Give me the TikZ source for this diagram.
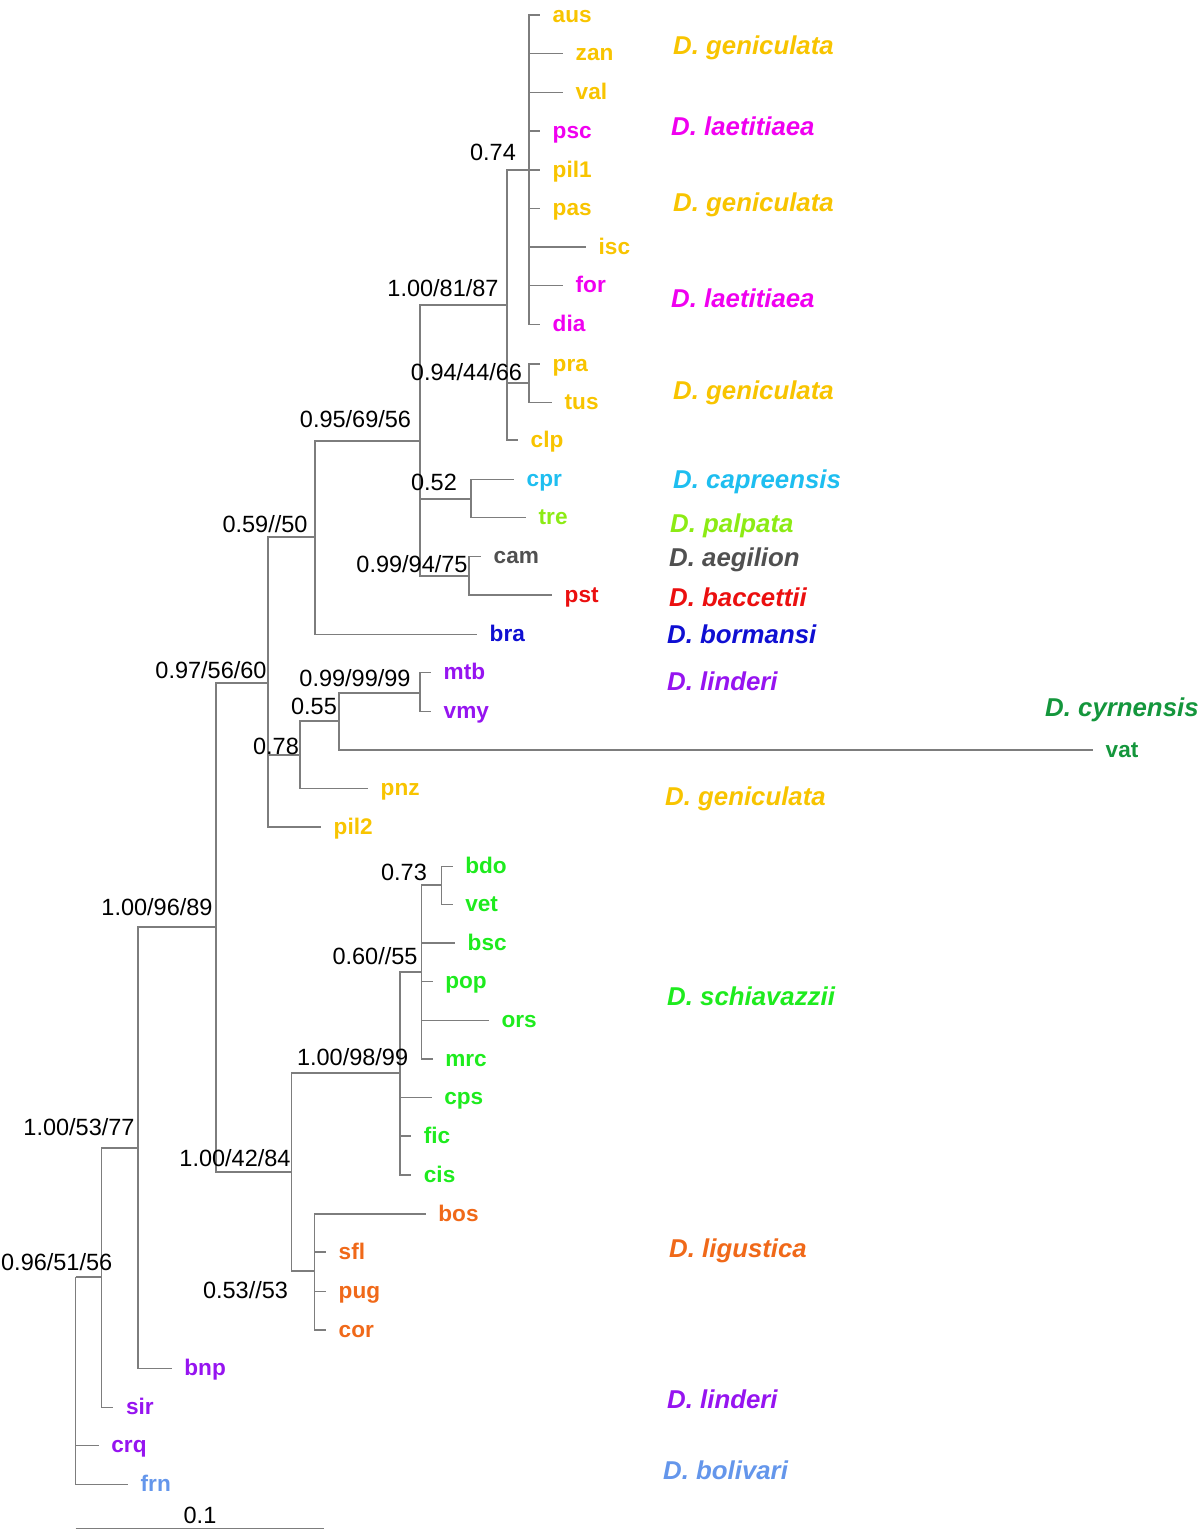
\documentclass[tikz,border=0pt]{standalone}
\usepackage{fontspec}
\setmainfont{Liberation Sans}
\definecolor{gen}{RGB}{248,196,0}
\definecolor{lae}{RGB}{240,0,240}
\definecolor{cap}{RGB}{30,190,240}
\definecolor{pal}{RGB}{140,235,20}
\definecolor{aeg}{RGB}{80,80,80}
\definecolor{bac}{RGB}{235,15,15}
\definecolor{bor}{RGB}{15,15,210}
\definecolor{lin}{RGB}{150,20,240}
\definecolor{cyr}{RGB}{20,150,60}
\definecolor{sch}{RGB}{30,235,30}
\definecolor{lig}{RGB}{240,105,25}
\definecolor{bol}{RGB}{100,150,235}
\definecolor{brc}{RGB}{125,125,125}
\begin{document}
\begin{tikzpicture}[x=1pt,y=-1pt,
  br/.style={draw=brc,line width=1.1pt},
  tiplab/.style={inner sep=0pt,anchor=base west,font=\fontsize{22.6}{26}\selectfont\bfseries},
  sup/.style={inner sep=0pt,anchor=center,font=\fontsize{23.5}{27}\selectfont},
  spec/.style={inner sep=0pt,anchor=base west,font=\fontsize{25.8}{30}\selectfont\bfseries\itshape}]
\useasboundingbox (0,0) rectangle (1200,1530);
% internal nodes
\coordinate (R) at (75.7,1277);
\coordinate (A) at (101.7,1277);
\coordinate (B) at (138,1148);
\coordinate (C) at (216,927);
\coordinate (D) at (268,683);
\coordinate (F) at (315,537);
\coordinate (H) at (420,441);
\coordinate (I) at (507,305);
\coordinate (L) at (529,170);
\coordinate (M) at (529,383);
\coordinate (J) at (471,499);
\coordinate (K) at (469,576);
\coordinate (G) at (300,755);
\coordinate (N) at (339,721);
\coordinate (O) at (420,693);
\coordinate (E) at (291.6,1172);
\coordinate (P) at (400,1073);
\coordinate (S) at (421.4,972);
\coordinate (T) at (441.4,885);
\coordinate (Q) at (314.7,1271);
% internal branches
\foreach \p/\c in {R/A,A/B,B/C,C/D,C/E,D/F,D/G,F/H,H/I,H/J,H/K,I/L,I/M,G/N,N/O,E/P,E/Q,P/S,S/T}
  \draw[br] (\p) |- (\c);
% tips: name/parent/y/line end/colour
\foreach \n/\p/\y/\xe/\col in {
  aus/L/15/540/gen, zan/L/53.3/563/gen, val/L/92.3/563/gen, psc/L/131/540/lae,
  pil1/L/170/540/gen, pas/L/208.3/540/gen, isc/L/247/586/gen, for/L/285.7/563/lae,
  dia/L/324.3/540/lae, pra/M/364/540/gen, tus/M/402.3/552/gen, clp/I/440/518/gen,
  cpr/J/479.3/514/cap, tre/J/517.7/526/pal, cam/K/556.7/481/aeg, pst/K/595/552/bac,
  bra/F/634.3/477/bor, mtb/O/672.7/431/lin, vmy/O/711.7/431/lin, vat/N/750/1093/cyr,
  pnz/G/788.7/368/gen, pil2/D/827/321/gen,
  bdo/T/866.7/452.6/sch, vet/T/904.3/452.6/sch, bsc/S/943/455/sch, pop/S/981.7/432.6/sch,
  ors/S/1020.3/488.8/sch, mrc/S/1059/432.6/sch, cps/P/1097.7/431.6/sch, fic/P/1136/411.2/sch,
  cis/P/1175/411.2/sch, bos/Q/1214/425.7/lig, sfl/Q/1252/326/lig, pug/Q/1291.3/326/lig,
  cor/Q/1330/326/lig, bnp/B/1368.3/171.7/lin, sir/A/1407.3/113.3/lin, crq/R/1445.7/98.7/lin,
  frn/R/1484.3/128/bol}
{
  \coordinate (\n-e) at (\xe,\y);
  \draw[br] (\p) |- (\n-e);
  \node[tiplab,text=\col] (\n) at (\xe+12.5,\y+7.2) {\n};
}
% support values
\node[sup] (s1) at (493,152) {0.74};
\node[sup] (s2) at (443,288) {1.00/81/87};
\node[sup] (s3) at (466.5,372) {0.94/44/66};
\node[sup] (s4) at (355.5,419) {0.95/69/56};
\node[sup] (s5) at (434,482) {0.52};
\node[sup] (s6) at (412,564) {0.99/94/75};
\node[sup] (s7) at (265,524) {0.59//50};
\node[sup] (s8) at (211,670) {0.97/56/60};
\node[sup] (s9) at (355,678) {0.99/99/99};
\node[sup] (s10) at (314,706) {0.55};
\node[sup] (s11) at (276,746) {0.78};
\node[sup] (s12) at (404,872) {0.73};
\node[sup] (s13) at (157,907) {1.00/96/89};
\node[sup] (s14) at (375,956) {0.60//55};
\node[sup] (s15) at (352.6,1057) {1.00/98/99};
\node[sup] (s16) at (79,1127) {1.00/53/77};
\node[sup] (s17) at (235,1158) {1.00/42/84};
\node[sup] (s18) at (56.7,1262) {0.96/51/56};
\node[sup] (s19) at (245.5,1290) {0.53//53};
% species labels
\node[spec,text=gen] (g1) at (673,55) {D. geniculata};
\node[spec,text=lae] (l1) at (671,136) {D. laetitiaea};
\node[spec,text=gen] (g2) at (673,212) {D. geniculata};
\node[spec,text=lae] (l2) at (671,307) {D. laetitiaea};
\node[spec,text=gen] (g3) at (673,399) {D. geniculata};
\node[spec,text=cap] (c1) at (673,488) {D. capreensis};
\node[spec,text=pal] (p1) at (670,532) {D. palpata};
\node[spec,text=aeg] (a1) at (669,566) {D. aegilion};
\node[spec,text=bac] (b1) at (669,606) {D. baccettii};
\node[spec,text=bor] (b2) at (667,643) {D. bormansi};
\node[spec,text=lin] (n1) at (667,690) {D. linderi};
\node[spec,text=cyr] (y1) at (1045,716) {D. cyrnensis};
\node[spec,text=gen] (g4) at (665,805) {D. geniculata};
\node[spec,text=sch] (h1) at (667,1005) {D. schiavazzii};
\node[spec,text=lig] (u1) at (669,1257) {D. ligustica};
\node[spec,text=lin] (n2) at (667,1408) {D. linderi};
\node[spec,text=bol] (o1) at (663,1479) {D. bolivari};
% scale bar
\coordinate (sb1) at (75.7,1528.5);
\coordinate (sb2) at (324.3,1528.5);
\draw[br] (sb1) -- (sb2);
\node[sup] (sbl) at (200,1515) {0.1};
\end{tikzpicture}
\end{document}
